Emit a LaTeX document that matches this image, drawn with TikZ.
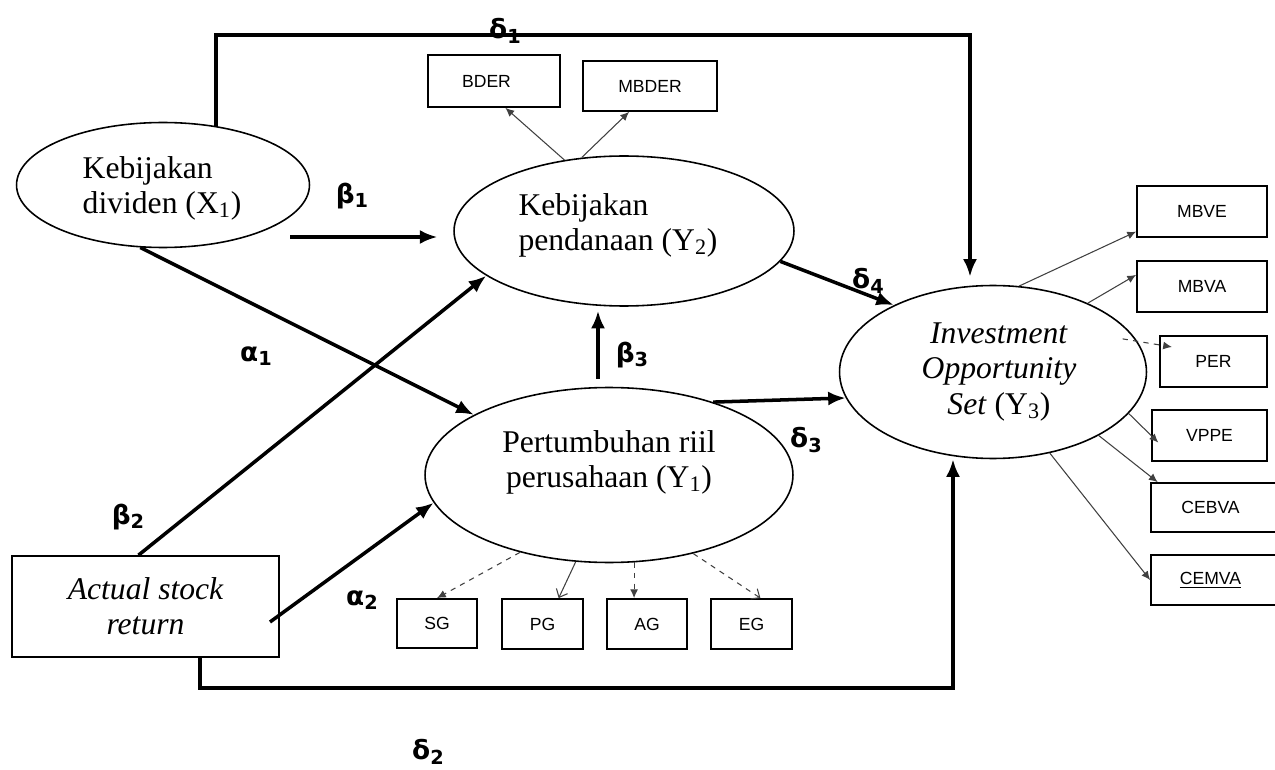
\documentclass[tikz,border=0pt]{standalone}
\usepackage{fontspec}
\setmainfont{Liberation Serif}
\newfontfamily\greekf{DejaVu Sans}
\newfontfamily\indf{Liberation Sans}
\usetikzlibrary{shapes.geometric,arrows.meta}
\newcommand{\coefl}[2]{#1{\fontsize{11}{11}\selectfont\raisebox{-2.5pt}{#2}}}
\begin{document}
\begin{tikzpicture}[x=0.02cm,y=-0.02cm,
  construct/.style={ellipse, draw, line width=0.9pt, inner sep=0pt},
  ctext/.style={inner sep=0pt, font=\fontsize{18}{20}\selectfont},
  indbox/.style={rectangle, draw, line width=1pt, inner sep=0pt,
    font=\indf\fontsize{10}{12}\selectfont},
  srcbox/.style={rectangle, draw, line width=1pt, inner sep=0pt, align=center,
    font=\fontsize{18}{20}\selectfont\itshape},
  mainarrow/.style={line width=2pt, -{Latex[length=10pt,width=8pt]}},
  indarrow/.style={line width=0.6pt, draw=black!75, -{Latex[length=5pt,width=4.5pt]}},
  indopen/.style={line width=0.6pt, draw=black!75, -{Straight Barb[length=4pt,width=7pt]}},
  coef/.style={font=\greekf\bfseries\fontsize{15}{15}\selectfont, inner sep=0pt}
]
\clip (0,0) rectangle (1275,770);
\fill[white] (0,0) rectangle (1275,770);

% constructs
\node[construct, minimum width=5.86cm, minimum height=2.5cm] (X1) at (163,185) {};
\node[ctext, align=left] (X1t) at (162,188) {Kebijakan\\dividen (X\textsubscript{1})};
\node[construct, minimum width=6.8cm, minimum height=3.0cm] (Y2) at (624,231) {};
\node[ctext, align=left] (Y2t) at (618,225) {Kebijakan\\pendanaan (Y\textsubscript{2})};
\node[construct, minimum width=7.36cm, minimum height=3.5cm] (Y1) at (609,475) {};
\node[ctext, align=center] (Y1t) at (609,462) {Pertumbuhan riil\\perusahaan (Y\textsubscript{1})};
\node[construct, minimum width=6.14cm, minimum height=3.46cm] (Y3) at (993,372) {};
\node[ctext, align=center] (Y3t) at (999,372)
  {\textit{Investment}\\\textit{Opportunity}\\\textit{Set} (Y\textsubscript{3})};
\node[srcbox, minimum width=5.34cm, minimum height=2.02cm] (ASR) at (145.5,606.5)
  {Actual stock\\return};

% indicator boxes
\node[indbox, minimum width=2.64cm, minimum height=1.04cm] (BDER) at (494,81) {BDER\hspace*{0.3cm}};
\node[indbox, minimum width=2.68cm, minimum height=1.0cm] (MBDER) at (650,86) {MBDER};
\node[indbox, minimum width=2.6cm, minimum height=1.02cm] (MBVE) at (1202,211.5) {MBVE};
\node[indbox, minimum width=2.6cm, minimum height=1.02cm] (MBVA) at (1202,286.5) {MBVA};
\node[indbox, minimum width=2.14cm, minimum height=1.02cm] (PER) at (1213.5,361.5) {PER};
\node[indbox, minimum width=2.3cm, minimum height=1.02cm] (VPPE) at (1209.5,435.5) {VPPE};
\node[indbox, minimum width=2.78cm, minimum height=0.98cm] (CEBVA) at (1220.5,507.5) {CEBVA\hspace*{0.4cm}};
\node[indbox, minimum width=2.78cm, minimum height=1.0cm] (CEMVA) at (1220.5,580) {\underline{CEMVA}\hspace*{0.4cm}};
\node[indbox, minimum width=1.6cm, minimum height=0.98cm] (SG) at (437,623.5) {SG};
\node[indbox, minimum width=1.62cm, minimum height=1.0cm] (PG) at (542.5,624) {PG};
\node[indbox, minimum width=1.6cm, minimum height=1.0cm] (AG) at (647,624) {AG};
\node[indbox, minimum width=1.62cm, minimum height=1.0cm] (EG) at (751.5,624) {EG};

% helper coordinates
\coordinate (b1s) at (290,237);
\coordinate (a2s) at (270,622);
\coordinate (d1b) at (970,35);
\coordinate (d2a) at (200,688);
\coordinate (d2b) at (953,688);

% structural paths
\draw[mainarrow, shorten >=9pt] (b1s) -- (b1s -| Y2.west);
\draw[mainarrow] (X1.250) -- (Y1.156);
\draw[mainarrow] ([xshift=-0.14cm]ASR.north) -- (Y2.198);
\draw[mainarrow] (a2s) -- (Y1.189);
\draw[mainarrow, shorten <=0.16cm, shorten >=0.08cm] ([xshift=-0.22cm]Y1.north) -- ([xshift=-0.22cm]Y1.north |- Y2.south);
\draw[mainarrow] (Y1.35) -- (Y3.190);
\draw[mainarrow] (Y2.-11) -- (Y3.146);
\draw[mainarrow, shorten >=0.16cm] (X1.48) |- (d1b) -- (d1b |- Y3.north);
\draw[mainarrow] (ASR.south -| d2a) -- (d2a) -- (d2b) -- (d2b |- Y3.south);

% indicator paths
\draw[indarrow] (Y2.130) -- (BDER.-67);
\draw[indarrow] (Y2.120) -- (MBDER.231);
\draw[indarrow] (Y3.73) -- (MBVE.197);
\draw[indarrow] (Y3.36) -- (MBVA.170);
\draw[indarrow, dashed, shorten <=-0.3cm, shorten >=-0.26cm] (Y3.12) -- (PER.163);
\draw[indarrow, shorten >=-0.2cm] (Y3.-17) -- (VPPE.west);
\draw[indarrow] (Y3.-31) -- (CEBVA.158);
\draw[indarrow] (Y3.-55) -- (CEMVA.west);
\draw[indarrow, dashed] (Y1.221) -- (SG.north);
\draw[indopen] (Y1.249) -- (PG.58);
\draw[indarrow, dashed] (Y1.286) -- (Y1.286 |- AG.north);
\draw[indopen, dashed] (Y1.-43) -- (EG.71);

% coefficient labels
\node[coef] (ld1) at (505,31) {\coefl{δ}{1}};
\node[coef] (lb1) at (352,196) {\coefl{β}{1}};
\node[coef] (la1) at (256,356) {\coefl{α}{1}};
\node[coef] (lb2) at (128,517) {\coefl{β}{2}};
\node[coef] (la2) at (362,600) {\coefl{α}{2}};
\node[coef] (ld2) at (428,752) {\coefl{δ}{2}};
\node[coef] (lb3) at (632,355) {\coefl{β}{3}};
\node[coef] (ld3) at (806,440) {\coefl{δ}{3}};
\node[coef] (ld4) at (868,281) {\coefl{δ}{4}};
\end{tikzpicture}
\end{document}
